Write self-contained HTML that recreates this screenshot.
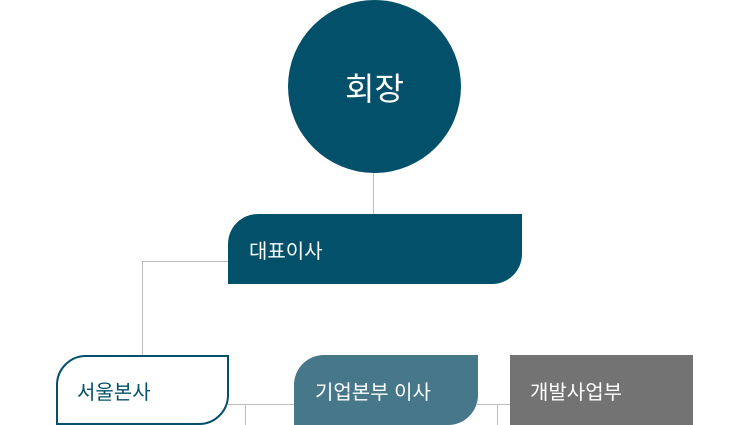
<!DOCTYPE html>
<html><head><meta charset="utf-8"><style>
body{margin:0;width:750px;height:425px;background:#fff;position:relative;overflow:hidden;font-family:"Liberation Sans","Noto Sans CJK KR",sans-serif;}
div{position:absolute;box-sizing:border-box;}
.l{background:#bdbdbd;}
.t{display:flex;align-items:center;padding-left:21px;font-size:20px;}
</style></head><body>
<div class="l" style="left:373px;top:170px;width:1px;height:45px"></div>
<div class="l" style="left:142px;top:261px;width:87px;height:1px"></div>
<div class="l" style="left:142px;top:261px;width:1px;height:95px"></div>
<div class="l" style="left:228px;top:404px;width:67px;height:1px"></div>
<div class="l" style="left:245px;top:404px;width:1px;height:21px"></div>
<div class="l" style="left:477px;top:404px;width:34px;height:1px"></div>
<div class="l" style="left:497px;top:404px;width:1px;height:21px"></div>
<div style="left:288px;top:0;width:173px;height:173px;border-radius:50%;background:#03506a;color:#fff;font-size:32px;display:flex;align-items:center;justify-content:center;">회장</div>
<div class="t" style="left:228px;top:214px;width:294px;height:70px;background:#03506a;color:#fff;border-radius:30px 0 30px 0;">대표이사</div>
<div class="t" style="left:56px;top:355px;width:173px;height:70px;border:2px solid #03506a;color:#03506a;border-radius:30px 0 30px 0;padding-left:19px;">서울본사</div>
<div class="t" style="left:294px;top:355px;width:184px;height:70px;background:#46788a;color:#fff;border-radius:30px 0 30px 0;">기업본부 이사</div>
<div class="t" style="left:510px;top:355px;width:183px;height:70px;background:#737373;color:#fff;padding-left:20px;">개발사업부</div>
</body></html>
